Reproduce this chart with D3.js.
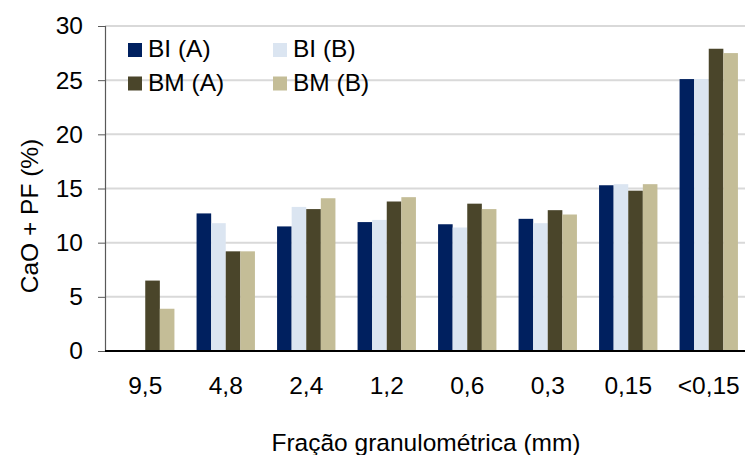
<!DOCTYPE html>
<html>
<head>
<meta charset="utf-8">
<script src="https://cdn.jsdelivr.net/npm/d3@7"></script>
<style>
  html, body { margin: 0; padding: 0; background: #fff; }
  svg { display: block; font-family: "Liberation Sans", Arial, sans-serif; }
</style>
</head>
<body>
<svg id="chart" width="745" height="455"></svg>
<script>
// Grain-size fractions (mm) and CaO + PF content (%) for each sample
const categories = ["9,5", "4,8", "2,4", "1,2", "0,6", "0,3", "0,15", "<0,15"];
const seriesNames = ["BI (A)", "BI (B)", "BM (A)", "BM (B)"];
const biA = [0, 12.7, 11.5, 11.9, 11.7, 12.2, 15.3, 25.1];
const biB = [0, 11.8, 13.3, 12.1, 11.4, 11.8, 15.4, 25.1];
const bmA = [6.5, 9.2, 13.1, 13.8, 13.6, 13.0, 14.8, 27.9];
const bmB = [3.9, 9.2, 14.1, 14.2, 13.1, 12.6, 15.4, 27.5];
const yTicks = [0, 5, 10, 15, 20, 25, 30];

const seriesValues = [biA, biB, bmA, bmB];
const colors = ["#00205f", "#dbe5f1", "#4a452a", "#c4bd97"];
const FONT = "Liberation Sans, Arial, sans-serif";
const FS = 24.5;

const svg = d3.select("#chart");
const margin = { top: 26, left: 105, bottom: 104 };
const plotW = 644;
const plotH = 455 - margin.top - margin.bottom;

const x = d3.scaleBand().domain(categories).range([margin.left, margin.left + plotW]).paddingInner(0.275).paddingOuter(0.1375);
const xs = d3.scaleBand().domain(seriesNames).range([0, x.bandwidth()]);
const y = d3.scaleLinear().domain([0, 30]).range([margin.top + plotH, margin.top]);

// Horizontal gridlines
svg.append("g")
  .selectAll("line")
  .data(yTicks.filter(t => t > 0))
  .join("line")
  .attr("x1", margin.left).attr("x2", 745)
  .attr("y1", d => y(d)).attr("y2", d => y(d))
  .attr("stroke", "#d9d9d9").attr("stroke-width", 2);

// Bars
const groups = svg.append("g")
  .selectAll("g")
  .data(categories)
  .join("g")
  .attr("transform", d => `translate(${x(d)},0)`);

groups.selectAll("rect")
  .data((c, i) => seriesNames.map((s, k) => ({ s, k, v: seriesValues[k][i] })))
  .join("rect")
  .attr("x", d => xs(d.s))
  .attr("width", xs.bandwidth())
  .attr("y", d => y(d.v))
  .attr("height", d => y(0) - y(d.v))
  .attr("fill", d => colors[d.k]);

// Y axis
const yAxis = svg.append("g")
  .attr("transform", `translate(${margin.left},0)`)
  .call(d3.axisLeft(y).tickValues(yTicks).tickSize(7).tickPadding(15));
yAxis.select(".domain").attr("stroke", "#595959").attr("stroke-width", 1.2);
yAxis.selectAll(".tick line").attr("stroke", "#595959");
yAxis.selectAll("text").attr("font-size", FS).attr("fill", "#000").attr("font-family", FONT);

// X axis (baseline and category labels)
const xAxis = svg.append("g")
  .attr("transform", `translate(0,${y(0)})`)
  .call(d3.axisBottom(x).tickSize(0).tickPadding(26));
xAxis.select(".domain").attr("stroke", "#000").attr("stroke-width", 2).attr("d", `M${margin.left},0H745`);
xAxis.selectAll("text").attr("font-size", FS).attr("fill", "#000").attr("font-family", FONT);

// Axis titles
svg.append("text")
  .attr("x", 426).attr("y", 451)
  .attr("text-anchor", "middle")
  .attr("font-size", FS)
  .attr("font-family", FONT)
  .text("Fração granulométrica (mm)");

svg.append("text")
  .attr("transform", "translate(38,216) rotate(-90)")
  .attr("text-anchor", "middle")
  .attr("font-size", FS)
  .attr("font-family", FONT)
  .text("CaO + PF (%)");

// Legend, two columns
const legend = svg.append("g");
const legendItems = legend.selectAll("g")
  .data(seriesNames)
  .join("g")
  .attr("transform", (d, i) => `translate(${128 + (i % 2) * 145},${50 + Math.floor(i / 2) * 33.5})`);
legendItems.append("rect")
  .attr("x", 0).attr("y", -7).attr("width", 14).attr("height", 14)
  .attr("fill", (d, i) => colors[i]);
legendItems.append("text")
  .attr("x", 20).attr("y", 7)
  .attr("font-size", FS)
  .attr("font-family", FONT)
  .text(d => d);
</script>
</body>
</html>
